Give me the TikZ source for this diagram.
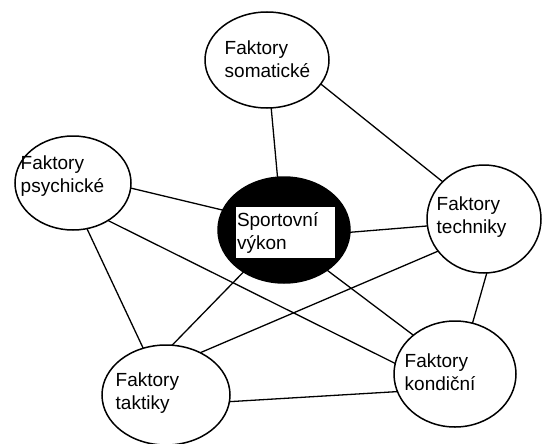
\documentclass[tikz,border=0pt]{standalone}
\usepackage{fontspec}
\setmainfont{Liberation Sans}
\usetikzlibrary{shapes.geometric}

\begin{document}
\begin{tikzpicture}[x=1pt,y=-1pt,
    factor/.style = {draw, ellipse, line width=1.5pt, inner sep=0pt, outer sep=0pt},
    txt/.style = {anchor=west, align=left, inner sep=0pt, font=\fontsize{19}{23}\selectfont},
    link/.style = {line width=1.3pt}]
\useasboundingbox (0,0) rectangle (543,444);
    % ellipses
    \node[factor, minimum width=124, minimum height=96] (soma) at (267,60) {};
    \node[factor, minimum width=116, minimum height=94] (psy) at (73,183) {};
    \node[factor, minimum width=114, minimum height=108] (tech) at (484,219) {};
    \node[factor, minimum width=122, minimum height=106] (kond) at (455,374) {};
    \node[factor, minimum width=128, minimum height=100] (takt) at (166,395) {};
    \node[factor, fill=black, minimum width=132, minimum height=106] (core) at (284,230) {};
    % texts
    \node[txt] (somaT) at (224.5,59.5) {Faktory\\somatické};
    \node[txt] (psyT) at (20.5,176) {Faktory\\psychické};
    \node[txt] (techT) at (436.5,217.5) {Faktory\\techniky};
    \node[txt] (kondT) at (404.5,372) {Faktory\\kondiční};
    \node[txt] (taktT) at (115.5,393.5) {Faktory\\taktiky};
    \node[txt, anchor=center, fill=white, text width=97, inner sep=1pt, minimum height=51] (coreT) at (285.5,232.5) {Sportovní\\výkon};
    % links
    \draw[link] (soma.-85) -- (core.97.5);
    \draw[link] (soma.-24) -- (tech.138);
    \draw[link] (psy.-5) -- (core.162.6);
    \draw[link] (psy.-47) -- (kond.170);
    \draw[link] (psy.-73) -- (takt.116);
    \draw[link] (core.-2) -- (tech.187);
    \draw[link] (core.226) -- (takt.83);
    \draw[link] (core.-43.7) -- (kond.137.8);
    \draw[link] (tech.215.7) -- (takt.51.7);
    \draw[link] (tech.-87) -- (kond.71);
    \draw[link] (takt.-6) -- (kond.197);
\end{tikzpicture}
\end{document}
